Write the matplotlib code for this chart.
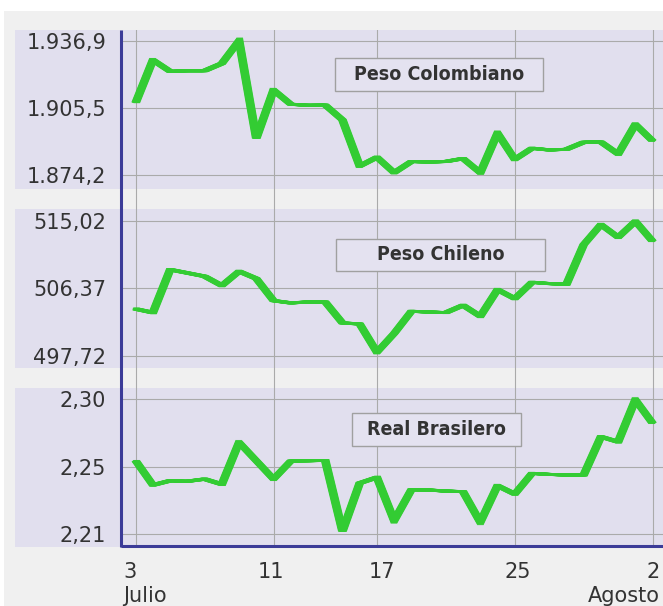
import numpy as np
import pandas as pd
import matplotlib
matplotlib.use('Agg')
import matplotlib.pyplot as plt
import matplotlib.dates as mdates
from matplotlib.patches import Rectangle
from matplotlib.lines import Line2D
from matplotlib.transforms import offset_copy, blended_transform_factory, ScaledTranslation

# ---------------- data ----------------
dates = pd.date_range('2013-07-03', '2013-08-02', freq='D')

peso_colombiano = [1908.0, 1927.9, 1922.6, 1922.9, 1922.9, 1926.3, 1936.9, 1891.4, 1913.9, 1907.3,
                   1906.8, 1906.9, 1900.0, 1878.5, 1882.6, 1875.4, 1880.6, 1880.4, 1880.6, 1882.0,
                   1875.4, 1893.8, 1881.6, 1886.8, 1886.0, 1886.3, 1889.6, 1889.7, 1884.1, 1897.9,
                   1890.2]
peso_chileno = [503.73, 503.26, 508.76, 508.33, 507.90, 506.71, 508.54, 507.61, 504.79, 504.50,
                504.62, 504.62, 501.94, 501.81, 498.20, 500.60, 503.43, 503.34, 503.26, 504.20,
                502.79, 506.20, 505.05, 507.14, 506.97, 506.88, 511.95, 514.51, 512.89, 514.93,
                512.38]
real_brasilero = [2.2590, 2.2428, 2.2457, 2.2453, 2.2468, 2.2433, 2.2712, 2.2590, 2.2468, 2.2588,
                  2.2590, 2.2592, 2.2120, 2.2441, 2.2479, 2.2191, 2.2397, 2.2395, 2.2388, 2.2384,
                  2.2180, 2.2424, 2.2368, 2.2506, 2.2499, 2.2495, 2.2495, 2.2750, 2.2716, 2.2996,
                  2.2840]

series_names = ['Peso Colombiano', 'Peso Chileno', 'Real Brasilero']
series_values = [peso_colombiano, peso_chileno, real_brasilero]
ytick_values = [[1874.2, 1905.55, 1936.9], [497.72, 506.37, 515.02], [2.21, 2.255, 2.30]]
ytick_labels = [['1.874,2', '1.905,5', '1.936,9'], ['497,72', '506,37', '515,02'], ['2,21', '2,25', '2,30']]

xtick_dates = pd.to_datetime(['2013-07-03', '2013-07-11', '2013-07-17', '2013-07-25', '2013-08-02'])
xtick_labels = ['3\nJulio', '11', '17', '25', '2\nAgosto']

# ---------------- layout / style ----------------
W, H, DPI = 663, 606, 100
GREEN = '#33cc33'
LAV = '#e1dfee'
BG = '#f0f0f0'
BLUE = '#3b3b98'
GRID = '#aaaaaa'
TXT = '#333333'

AX_L = 121.5
AX_R = W
BG_TOP, BG_BOT = 30, 545.5
panel_px = [(30, 189), (209, 368), (388, 545.5)]
band_px = [(30, 189), (209, 368), (388, 547)]
margins = [(0.0795, 0.102), (0.086, 0.089), (0.083, 0.083)]  # top, bottom as fraction of tick span
box_px = [(335, 58, 543, 91), (336, 239, 545, 271), (352, 413, 521, 446)]
xlabel_dx = [-12.2, -3, 5, 3, 7]
xlabel_ha = ['left', 'center', 'center', 'center', 'right']


def fr(x0, y0, x1, y1):
    return [x0 / W, 1 - y1 / H, (x1 - x0) / W, (y1 - y0) / H]


fig = plt.figure(figsize=(W / DPI, H / DPI), dpi=DPI)
fig.patch.set_facecolor('white')

# gray page background
fig.add_artist(Rectangle((4 / W, 0), 1, 1 - 11 / H, transform=fig.transFigure,
                         facecolor=BG, edgecolor='none', zorder=-20))
# lavender bands
for (y0, y1) in band_px:
    r = fr(15, y0, W, y1)
    fig.add_artist(Rectangle((r[0], r[1]), r[2], r[3], transform=fig.transFigure,
                             facecolor=LAV, edgecolor='none', zorder=-19))

x_lo = mdates.date2num(dates[0]) - (135.7 - AX_L) / 17.23
x_hi = mdates.date2num(dates[-1]) + (AX_R - 652.6) / 17.23

# background axes: vertical grid across all panels
ax_bg = fig.add_axes(fr(AX_L, BG_TOP, AX_R, BG_BOT))
ax_bg.set_facecolor('none')
for s in ax_bg.spines.values():
    s.set_visible(False)
ax_bg.set_xlim(x_lo, x_hi)
ax_bg.set_xticks(mdates.date2num(xtick_dates))
ax_bg.set_xticklabels([])
ax_bg.set_yticks([])
ax_bg.tick_params(axis='x', length=0)
ax_bg.grid(axis='x', color=GRID, lw=0.8)

lw_pts = 2.8 * 72 / DPI
offsets = np.linspace(-3.0, 3.0, 13)

for i, (name, vals) in enumerate(zip(series_names, series_values)):
    y0, y1 = panel_px[i]
    ax = fig.add_axes(fr(AX_L, y0, AX_R, y1), sharex=ax_bg)
    ax.set_facecolor('none')
    for s in ax.spines.values():
        s.set_visible(False)
    tv = ytick_values[i]
    span = tv[-1] - tv[0]
    mt, mb = margins[i]
    ax.set_ylim(tv[0] - mb * span, tv[-1] + mt * span)
    ax.set_xlim(x_lo, x_hi)
    ax.set_yticks(tv)
    ax.set_yticklabels(ytick_labels[i])
    ax.tick_params(axis='y', length=0, pad=11, labelsize=15, labelcolor=TXT)
    ax.tick_params(axis='x', length=0, labelbottom=False)
    ax.grid(axis='y', color=GRID, lw=0.8)
    ax.set_axisbelow(True)
    for dx in offsets:
        tr = offset_copy(ax.transData, fig=fig, x=dx, y=0, units='dots')
        ax.plot(dates, vals, color=GREEN, lw=lw_pts, transform=tr,
                solid_joinstyle='miter', solid_capstyle='butt', zorder=3)
    # label box
    bx0, by0, bx1, by1 = box_px[i]
    r = fr(bx0, by0, bx1, by1)
    fig.add_artist(Rectangle((r[0], r[1]), r[2], r[3], transform=fig.transFigure,
                             facecolor='#e4e2f0', edgecolor='#a0a0a0', lw=1.0, zorder=5))
    fig.text((bx0 + bx1) / 2 / W, 1 - ((by0 + by1) / 2) / H, name, ha='center', va='center',
             fontsize=14, fontweight='bold', color=TXT, zorder=6,
             family='DejaVu Sans', fontstretch='condensed')

# x labels
trb = blended_transform_factory(ax_bg.transData, ax_bg.transAxes)
for d, lab, dx, ha in zip(xtick_dates, xtick_labels, xlabel_dx, xlabel_ha):
    t = trb + ScaledTranslation(dx / DPI, -16 / DPI, fig.dpi_scale_trans)
    ax_bg.text(mdates.date2num(d), 0, lab, transform=t, ha=ha, va='top', multialignment=ha,
               fontsize=15, color=TXT, linespacing=1.25)

# blue axis lines
fig.add_artist(Line2D([AX_L / W, AX_L / W], [1 - BG_TOP / H, 1 - 547 / H], transform=fig.transFigure,
                      color=BLUE, lw=2.2, zorder=8, solid_capstyle='butt'))
fig.add_artist(Line2D([AX_L / W, 1], [1 - 545.5 / H, 1 - 545.5 / H], transform=fig.transFigure,
                      color=BLUE, lw=2.2, zorder=8, solid_capstyle='butt'))

fig.savefig('out.png', dpi=DPI, facecolor='white')
